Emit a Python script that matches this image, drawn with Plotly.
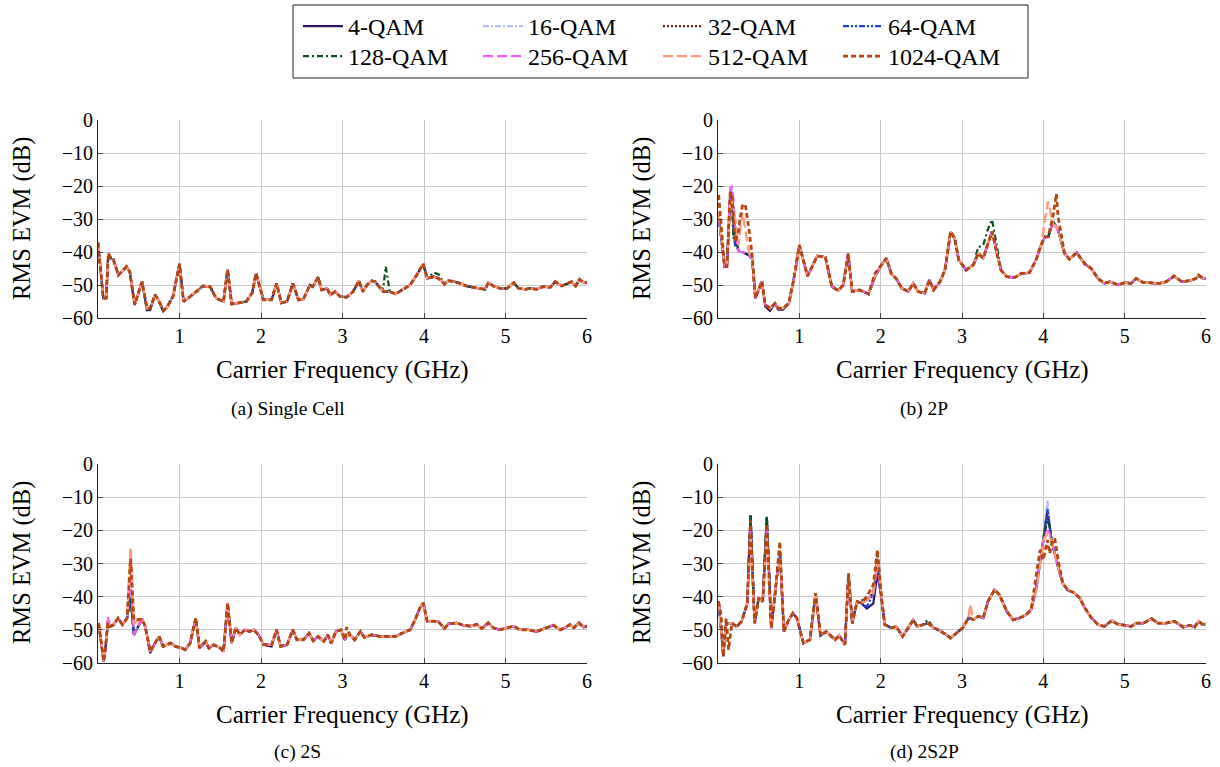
import plotly.graph_objects as go

W, H = 1220, 767

series_names = ["4-QAM", "16-QAM", "32-QAM", "64-QAM",
                "128-QAM", "256-QAM", "512-QAM", "1024-QAM"]
series_colors = ["#2e1760", "#b3bcf5", "#5c200c", "#1a46e0",
                 "#0b4d1f", "#f25cf0", "#ff9a7a", "#b4460e"]
series_dash = ["solid", "6px,2px,2px,2px", "2px,2px", "6px,2px,2px,2px,2px,2px",
               "6px,3px,2px,3px", "10px,4px", "10px,4px", "5px,3px"]
series_width = [2.2, 2.2, 2.2, 2.2, 2.2, 2.2, 2.4, 2.8]

x_ticks = [1, 2, 3, 4, 5, 6]
y_ticks = [0, -10, -20, -30, -40, -50, -60]

# ---------------- (a) Single Cell ----------------
freq_a = [0.0, 0.065, 0.1, 0.127, 0.17, 0.19, 0.25, 0.31, 0.35, 0.39,
          0.45, 0.54, 0.6, 0.64, 0.7, 0.74, 0.8, 0.84, 0.92, 1.0,
          1.05, 1.13, 1.21, 1.29, 1.375, 1.45, 1.54, 1.59, 1.64, 1.74,
          1.82, 1.89, 1.94, 2.03, 2.13, 2.19, 2.25, 2.32, 2.39, 2.46,
          2.52, 2.6, 2.635, 2.7, 2.745, 2.81, 2.85, 2.91, 2.97, 3.05,
          3.13, 3.2, 3.25, 3.3, 3.36, 3.4, 3.46, 3.5, 3.53, 3.58,
          3.65, 3.73, 3.83, 3.91, 3.99, 4.04, 4.12, 4.18, 4.25, 4.3,
          4.38, 4.44, 4.52, 4.6, 4.69, 4.75, 4.79, 4.85, 4.93, 5.02,
          5.1, 5.16, 5.24, 5.3, 5.38, 5.46, 5.55, 5.61, 5.69, 5.75,
          5.81, 5.86, 5.91, 5.96, 6.0]
evm_a = [-37.2, -54, -54, -40.4, -42.4, -42.4, -47, -45.5, -44.4, -46,
         -56, -49, -57, -57, -53, -54.5, -57.6, -57, -53.5, -43.6,
         -55, -53.5, -52, -50.3, -50.5, -54, -55, -45.3, -55.8, -55.4,
         -55, -52.5, -46.5, -54.5, -54.5, -49.5, -55.4, -55, -49.5, -54.5,
         -54.3, -50, -50.5, -47.7, -51.5, -51, -53, -52, -53.5, -53.7,
         -52, -48.7, -52, -50, -48.7, -49, -51, -52, -52, -52,
         -52.7, -51.5, -50, -47, -43.6, -48, -47.5, -48, -49.7, -48.7,
         -49, -49.5, -50.3, -50.7, -51, -51.3, -49.3, -50.3, -51, -51,
         -49.3, -51, -51.3, -51, -51.3, -50.5, -50.7, -49, -50.3, -49.7,
         -49, -50.3, -48.3, -49.3, -49.3]
dev_a = {
    "4-QAM": {0.6: -57.6, 0.64: -57.6, 0.8: -58},
    "128-QAM": {3.5: -51, 3.53: -44.4, 4.12: -46.2, 4.18: -46.8},
}

# ---------------- (b) 2P ----------------
freq_b = [0.008, 0.08, 0.11, 0.15, 0.17, 0.19, 0.21, 0.25, 0.27, 0.30,
          0.335, 0.38, 0.42, 0.46, 0.54, 0.58, 0.64, 0.70, 0.74, 0.80,
          0.87, 0.93, 1.0, 1.1, 1.22, 1.32, 1.40, 1.48, 1.54, 1.60,
          1.65, 1.74, 1.85, 1.93, 2.01, 2.07, 2.13, 2.19, 2.26, 2.34,
          2.40, 2.46, 2.54, 2.60, 2.65, 2.73, 2.79, 2.86, 2.91, 2.96,
          3.05, 3.14, 3.20, 3.26, 3.32, 3.37, 3.42, 3.48, 3.55, 3.65,
          3.73, 3.83, 3.91, 3.98, 4.02, 4.06, 4.12, 4.16, 4.18, 4.26,
          4.32, 4.41, 4.51, 4.59, 4.67, 4.75, 4.82, 4.92, 5.0, 5.08,
          5.14, 5.23, 5.33, 5.43, 5.51, 5.61, 5.70, 5.80, 5.88, 5.91,
          5.96, 6.0]
evm_b = [-29, -44.4, -44.4, -24, -22, -30, -36, -39.5, -40, -40,
         -40.4, -41, -42, -54, -48.9, -56, -57, -55.6, -57, -57,
         -55.6, -48.5, -37.9, -47.3, -41.2, -41.6, -50.5, -51.7, -50, -40.6,
         -52, -51.5, -52.7, -47.5, -43.9, -41.9, -46.5, -48, -51, -52,
         -49.5, -52, -52.5, -48.5, -51.5, -49, -45.5, -33.8, -35.9, -42.4,
         -45.5, -43.9, -40.4, -41.9, -37.4, -33.8, -39.4, -45.5, -47.5, -47.7,
         -46.5, -46.3, -42.4, -37.4, -35.4, -35.4, -30.8, -32.5, -33.3, -40.4,
         -42.2, -40.2, -43.6, -45, -48, -49.5, -49, -50, -49.3, -49.5,
         -48, -49.3, -49.3, -49.5, -49, -47.3, -49, -48.7, -48, -47,
         -48, -48]
dev_b = {
    "4-QAM": {0.15: -23, 0.58: -56.5, 0.64: -57.8, 0.74: -57.5, 0.80: -57.5},
    "16-QAM": {0.17: -20.3, 0.19: -26},
    "64-QAM": {0.19: -34, 0.21: -38},
    "128-QAM": {0.15: -21.5, 0.17: -23, 0.19: -36, 0.21: -32,
                3.20: -38.5, 3.26: -38, 3.32: -33, 3.37: -30.2, 3.42: -37},
    "256-QAM": {0.15: -20.5, 0.17: -20.2, 0.19: -24, 0.21: -33},
    "512-QAM": {0.008: -28, 0.15: -24, 0.17: -25, 0.19: -27, 0.21: -30,
                0.25: -38, 0.27: -34, 0.30: -28, 0.335: -33, 0.38: -40,
                4.02: -30, 4.06: -24.7, 4.12: -31.5},
    "1024-QAM": {0.008: -22.7, 0.15: -22, 0.17: -22.5, 0.19: -30, 0.21: -37,
                 0.25: -34, 0.27: -30, 0.30: -26, 0.335: -25.5, 0.38: -33,
                 0.42: -41, 1.93: -46.5, 4.12: -29, 4.16: -22.4, 4.18: -29},
}

# ---------------- (c) 2S ----------------
freq_c = [0.008, 0.07, 0.09, 0.12, 0.15, 0.19, 0.246, 0.30, 0.356, 0.40,
          0.44, 0.54, 0.58, 0.64, 0.70, 0.75, 0.80, 0.89, 0.95, 1.03,
          1.07, 1.13, 1.20, 1.245, 1.32, 1.36, 1.42, 1.5, 1.54, 1.59,
          1.64, 1.69, 1.74, 1.8, 1.86, 1.91, 1.97, 2.03, 2.13, 2.19,
          2.24, 2.32, 2.39, 2.44, 2.52, 2.59, 2.64, 2.7, 2.77, 2.82,
          2.86, 2.92, 2.98, 3.03, 3.05, 3.09, 3.15, 3.22, 3.27, 3.36,
          3.46, 3.56, 3.65, 3.73, 3.83, 3.89, 3.95, 3.99, 4.04, 4.12,
          4.18, 4.25, 4.3, 4.4, 4.48, 4.57, 4.65, 4.71, 4.79, 4.85,
          4.93, 5.02, 5.1, 5.18, 5.28, 5.38, 5.49, 5.59, 5.67, 5.73,
          5.79, 5.84, 5.9, 5.96, 6.0]
evm_c = [-48, -59.5, -56, -48, -49, -48.5, -46.5, -48.4, -46.5, -40,
         -51.5, -46.8, -49, -56.5, -54, -52, -55, -54, -55, -55.5,
         -56, -54, -46.5, -55.5, -53.5, -55.5, -54.5, -55.5, -56.5, -41.9,
         -54, -49.4, -51.5, -50, -50.5, -50, -51.5, -54.5, -54.5, -50,
         -55, -54.5, -50, -53, -53, -51, -53.3, -52, -53.5, -51.5,
         -54, -50.5, -50, -53, -52, -51.5, -53, -50.5, -52.3, -51.5,
         -52, -52, -52, -51, -50, -47, -43.4, -41.9, -47.4, -47.4,
         -47.6, -49.6, -48.2, -47.9, -48.6, -48.9, -48.4, -49.6, -47.9, -49.4,
         -50, -49.4, -48.9, -50, -50, -50.5, -49.6, -48.6, -50, -49.4,
         -48.4, -49.4, -47.9, -49.2, -48.9]
dev_c = {
    "4-QAM": {0.64: -57, 2.13: -55},
    "16-QAM": {0.40: -38},
    "256-QAM": {0.12: -46, 0.40: -35},
    "512-QAM": {0.40: -25, 0.44: -48},
    "1024-QAM": {0.40: -28.5, 0.44: -47, 3.05: -49.2},
}

# ---------------- (d) 2S2P ----------------
freq_d = [0.008, 0.04, 0.065, 0.10, 0.13, 0.17, 0.23, 0.29, 0.36, 0.40,
          0.45, 0.50, 0.55, 0.60, 0.655, 0.70, 0.76, 0.81, 0.86, 0.92,
          0.97, 1.05, 1.13, 1.2, 1.26, 1.33, 1.44, 1.49, 1.56, 1.605,
          1.65, 1.71, 1.76, 1.83, 1.91, 1.96, 2.01, 2.05, 2.13, 2.19,
          2.27, 2.34, 2.40, 2.45, 2.52, 2.58, 2.65, 2.73, 2.81, 2.86,
          2.93, 3.01, 3.08, 3.1, 3.14, 3.2, 3.26, 3.32, 3.4, 3.46,
          3.55, 3.63, 3.71, 3.79, 3.85, 3.91, 3.96, 4.0, 4.05, 4.08,
          4.1, 4.14, 4.19, 4.24, 4.3, 4.39, 4.45, 4.51, 4.59, 4.67,
          4.75, 4.84, 4.92, 5.0, 5.08, 5.14, 5.23, 5.33, 5.41, 5.51,
          5.61, 5.72, 5.8, 5.86, 5.91, 5.96, 6.0]
evm_d = [-41.5, -50, -57, -48, -48, -48, -49, -47.5, -42, -15.4,
         -48, -40.4, -41.5, -15.9, -49.5, -40, -26, -50.5, -47.5, -45,
         -46.5, -54, -53, -39, -51.7, -50.5, -53, -51.7, -54.5, -33,
         -48, -41.5, -41.9, -41, -39, -30, -40.4, -48.4, -49.4, -49,
         -52, -49.4, -47, -49, -48.4, -48, -49.4, -50.3, -51.5, -52.5,
         -51, -49.4, -46.4, -46.6, -46.9, -45.9, -46.4, -41.4, -37.9, -39.4,
         -44.4, -47, -46.4, -45.4, -43.9, -38, -30, -23, -14.3, -19,
         -23, -27, -32, -36, -38, -39, -40.5, -43.4, -46.4, -48.4,
         -49, -47.2, -48.4, -48.6, -49, -48, -48, -46.6, -48, -48,
         -47.4, -49.2, -48.6, -49.2, -47.4, -48.4, -48.2]
dev_d = {
    "4-QAM": {0.065: -58, 1.83: -43.6, 1.91: -42, 1.96: -33},
    "16-QAM": {4.0: -24, 4.05: -10.8},
    "32-QAM": {4.05: -14.4},
    "64-QAM": {1.83: -43, 4.05: -13.5},
    "128-QAM": {1.76: -41, 1.96: -26.5, 2.58: -47, 4.05: -17},
    "256-QAM": {0.40: -20, 0.60: -20, 4.0: -23, 4.05: -19.9, 4.08: -21},
    "512-QAM": {0.40: -22, 0.60: -22, 1.96: -28, 3.1: -42.4, 4.05: -21, 4.08: -22},
    "1024-QAM": {0.04: -46, 0.065: -58, 0.10: -46.5, 0.13: -56, 0.40: -17,
                 0.60: -18, 0.76: -23.4, 1.83: -40, 1.91: -36.4, 1.96: -25.8,
                 3.91: -34, 3.96: -25.9, 4.0: -28.9, 4.05: -22.9, 4.08: -27,
                 4.1: -24, 4.14: -22.4, 4.19: -30},
}

panels = [
    (freq_a, evm_a, dev_a, "x", "y", "(a) Single Cell"),
    (freq_b, evm_b, dev_b, "x2", "y2", "(b) 2P"),
    (freq_c, evm_c, dev_c, "x3", "y3", "(c) 2S"),
    (freq_d, evm_d, dev_d, "x4", "y4", "(d) 2S2P"),
]
for f, e, d, _, _, _ in panels:
    assert len(f) == len(e), (len(f), len(e))
    for s in d.values():
        for k in s:
            assert k in f, k


def px_x(p):
    return p / W


def px_y(p):
    return 1 - p / H


fig = go.Figure()
for pi, (freq, base, dev, xa, ya, _) in enumerate(panels):
    for si, name in enumerate(series_names):
        over = dev.get(name, {})
        vals = [over.get(fv, bv) for fv, bv in zip(freq, base)]
        fig.add_trace(go.Scatter(
            x=freq, y=vals, mode="lines", name=name,
            xaxis=xa, yaxis=ya,
            line=dict(color=series_colors[si], dash=series_dash[si],
                      width=series_width[si]),
            showlegend=(pi == 0),
            legend="legend" if si < 4 else "legend2",
        ))

FONT = '"Liberation Serif", "Times New Roman", serif'
TICKF = dict(family=FONT, size=20, color="#000")

xdom_l = [px_x(98), px_x(587)]
xdom_r = [px_x(718), px_x(1206)]
ydom_t = [px_y(318), px_y(120)]
ydom_b = [px_y(663), px_y(464)]

common_x = dict(range=[0, 6], tickvals=x_ticks, showgrid=True, gridcolor="#c8c8c8",
                gridwidth=1, showline=True, linecolor="#222", linewidth=1,
                ticks="inside", ticklen=5, tickcolor="#444", tickfont=TICKF,
                zeroline=False, fixedrange=True, automargin=False)
common_y = dict(range=[-60, 0], tickvals=y_ticks, showgrid=True, gridcolor="#c8c8c8",
                gridwidth=1, showline=True, linecolor="#222", linewidth=1,
                ticks="inside", ticklen=5, tickcolor="#444", tickfont=TICKF,
                zeroline=False, fixedrange=True, automargin=False)

LEGF = dict(family=FONT, size=24, color="#000")
fig.update_layout(
    width=W, height=H,
    margin=dict(l=0, r=0, t=0, b=0, pad=0, autoexpand=False),
    paper_bgcolor="white", plot_bgcolor="white",
    font=dict(family=FONT, color="#000"),
    xaxis=dict(domain=xdom_l, anchor="y", **common_x),
    yaxis=dict(domain=ydom_t, anchor="x", **common_y),
    xaxis2=dict(domain=xdom_r, anchor="y2", **common_x),
    yaxis2=dict(domain=ydom_t, anchor="x2", **common_y),
    xaxis3=dict(domain=xdom_l, anchor="y3", **common_x),
    yaxis3=dict(domain=ydom_b, anchor="x3", **common_y),
    xaxis4=dict(domain=xdom_r, anchor="y4", **common_x),
    yaxis4=dict(domain=ydom_b, anchor="x4", **common_y),
    legend=dict(orientation="h", x=px_x(298), y=px_y(4), xanchor="left", yanchor="top",
                entrywidth=125, itemwidth=40, font=LEGF,
                bgcolor="rgba(0,0,0,0)", borderwidth=0, tracegroupgap=0),
    legend2=dict(orientation="h", x=px_x(298), y=px_y(34), xanchor="left", yanchor="top",
                 entrywidth=125, itemwidth=40, font=LEGF,
                 bgcolor="rgba(0,0,0,0)", borderwidth=0, tracegroupgap=0),
    showlegend=True,
)

# legend frame
fig.add_shape(type="rect", xref="paper", yref="paper",
              x0=px_x(293), x1=px_x(1028), y0=px_y(78), y1=px_y(5),
              line=dict(color="#222", width=1), fillcolor="rgba(0,0,0,0)")

annots = []
ytitle_pos = [(22, 219), (642, 219), (22, 563), (642, 563)]
xtitle_pos = [(342, 370), (962, 370), (342, 715), (962, 715)]
cap_pos = [(288, 409), (924, 409), (297, 752), (924, 752)]
for i, p in enumerate(panels):
    annots.append(dict(text="RMS EVM (dB)", x=px_x(ytitle_pos[i][0]), y=px_y(ytitle_pos[i][1]),
                       xref="paper", yref="paper", showarrow=False, textangle=-90,
                       xanchor="center", yanchor="middle",
                       font=dict(family=FONT, size=24.5, color="#000")))
    annots.append(dict(text="Carrier Frequency (GHz)", x=px_x(xtitle_pos[i][0]), y=px_y(xtitle_pos[i][1]),
                       xref="paper", yref="paper", showarrow=False,
                       xanchor="center", yanchor="middle",
                       font=dict(family=FONT, size=25, color="#000")))
    annots.append(dict(text=p[5], x=px_x(cap_pos[i][0]), y=px_y(cap_pos[i][1]),
                       xref="paper", yref="paper", showarrow=False,
                       xanchor="center", yanchor="middle",
                       font=dict(family=FONT, size=19.5, color="#000")))
fig.update_layout(annotations=annots)

fig.write_html("out.html")
